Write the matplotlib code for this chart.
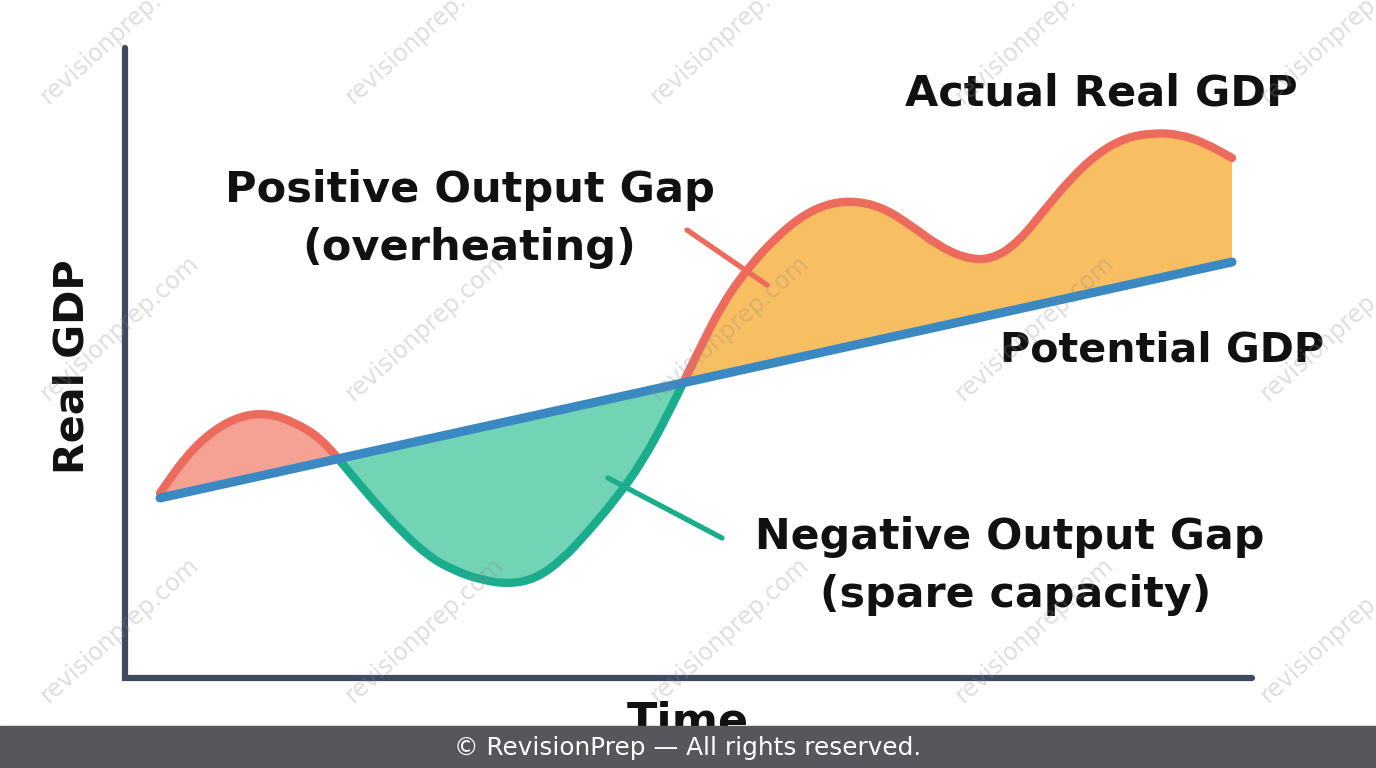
import matplotlib
matplotlib.use("Agg")
import matplotlib.pyplot as plt
from matplotlib.patches import Polygon, Rectangle, PathPatch
from matplotlib.path import Path
import numpy as np

# time steps along the x axis, and the two GDP series
time = np.arange(0, 41)
actual_gdp = [20.7, 24.5, 27.0, 28.4, 28.7, 27.8, 26.2, 23.0, 19.8, 16.9,
              14.4, 12.9, 12.0, 11.6, 12.1, 14.0, 16.9, 20.1, 23.8, 28.8,
              34.4, 39.7, 43.4, 46.3, 48.5, 49.7, 49.9, 49.2, 47.5, 45.5,
              44.2, 44.0, 45.7, 49.0, 52.2, 54.7, 56.2, 56.7, 56.6, 55.7,
              54.2]
potential_t = [0, 40]
potential_gdp = [20.2, 43.8]

labels = {
    "actual": "Actual Real GDP",
    "potential": "Potential GDP",
    "pos": ["Positive Output Gap", "(overheating)"],
    "neg": ["Negative Output Gap", "(spare capacity)"],
}
footer = "\u00a9 RevisionPrep \u2014 All rights reserved."

RED = "#ec6b5c"
TEAL = "#19ad8e"
BLUE = "#3a89c3"
AXIS = "#3e4a5f"

W, H = 1376, 768
fig = plt.figure(figsize=(W / 100, H / 100), dpi=100)
ax = fig.add_axes([0, 0, 1, 1])
ax.set_axis_off()

# pixel -> data mapping (t = (x-160)/26.8, gdp = (700-y)/10)
def px(x, y):
    return (x - 160) / 26.8, (700 - y) / 10

ax.set_xlim(px(0, 0)[0], px(W, 0)[0])
ax.set_ylim(px(0, H)[1], px(0, 0)[1])

pts = np.column_stack([np.asarray(time, float), np.asarray(actual_gdp)])

# smooth quadratic curve through the midpoints, points as control points
verts = [pts[0], (pts[0] + pts[1]) / 2]
codes = [Path.MOVETO, Path.LINETO]
for i in range(1, len(pts) - 1):
    verts += [pts[i], (pts[i] + pts[i + 1]) / 2]
    codes += [Path.CURVE3, Path.CURVE3]
verts.append(pts[-1])
codes.append(Path.LINETO)
curve = Path(verts, codes)

# area between the curve and the trend line
area = Path(verts + [(potential_t[1], potential_gdp[1]),
                     (potential_t[0], potential_gdp[0]),
                     (potential_t[0], potential_gdp[0])],
            codes + [Path.LINETO, Path.LINETO, Path.CLOSEPOLY])

slope = (potential_gdp[1] - potential_gdp[0]) / (potential_t[1] - potential_t[0])
def trend(x):
    return potential_gdp[0] + slope * (x - potential_t[0])

def region(xa, xb, up):
    far = 200 if up else -200
    return Polygon([(xa, trend(xa)), (xb, trend(xb)), (xb, far), (xa, far)],
                   transform=ax.transData)

for color, clip in [("#f5a295", region(-10, 12, True)),
                    ("#f8bf62", region(12, 50, True)),
                    ("#72d3b5", region(-10, 50, False))]:
    p = ax.add_patch(PathPatch(area, facecolor=color, lw=0, zorder=2))
    p.set_clip_path(clip)

# actual GDP line: red above potential, teal below
for color, up in [(RED, True), (TEAL, False)]:
    p = ax.add_patch(PathPatch(curve, facecolor="none", edgecolor=color, lw=6,
                               capstyle="round", joinstyle="round", zorder=3))
    p.set_clip_path(region(-10, 50, up))

ax.plot(potential_t, potential_gdp, color=BLUE, lw=6.5,
        solid_capstyle="round", zorder=4)

# axes drawn as plain lines
ax_x, ax_top = px(125, 48)
ax_right, ax_bot = px(1252, 678)
ax.plot([ax_x, ax_x, ax_right], [ax_top, ax_bot, ax_bot], color=AXIS, lw=4.5,
        solid_capstyle="round", solid_joinstyle="miter", zorder=4)

# pointer lines
for (xa, ya, xb, yb), c in [((687, 230, 767, 285), RED), ((608, 478, 722, 538), TEAL)]:
    p, q = px(xa, ya), px(xb, yb)
    ax.plot([p[0], q[0]], [p[1], q[1]], color=c, lw=3.8,
            solid_capstyle="round", zorder=5)

# footer bar
fig.patches.append(Rectangle((0, 0), 1, 42 / H, transform=fig.transFigure,
                             color="#55575c", zorder=6))
fig.text(0.5, (H - 748) / H, footer, color="white", fontsize=17.8,
         ha="center", va="center", zorder=7)

FONT = "DejaVu Sans"
renderer = fig.canvas.get_renderer()

def fit_text(s, cx, cy, width, rot=0, size=26):
    x, y = px(cx, cy)
    txt = ax.text(x, y, s, fontsize=size, fontweight="bold", family=FONT,
                  ha="center", va="center", rotation=rot, color="#111111",
                  zorder=8)
    bb = txt.get_window_extent(renderer)
    cur = bb.height if rot else bb.width
    txt.set_fontsize(size * width / cur)
    return txt

fit_text(labels["actual"], 1101, 93, 393)
fit_text(labels["potential"], 1162, 350, 325)
pt = fit_text(labels["pos"][0], 470, 190, 491)
ax.text(*px(469, 248), labels["pos"][1], fontsize=pt.get_fontsize(),
        fontweight="bold", family=FONT, ha="center", va="center",
        color="#111111", zorder=8)
nt = fit_text(labels["neg"][0], 1010, 537, 510)
ax.text(*px(1016, 595), labels["neg"][1], fontsize=nt.get_fontsize(),
        fontweight="bold", family=FONT, ha="center", va="center",
        color="#111111", zorder=8)
fit_text("Real GDP", 72, 367, 215, rot=90)
fit_text("Time", 688, 722, 122)

# watermark tiles
for cy in [31, 328, 630]:
    for cx in [120, 425, 730, 1035, 1340]:
        fig.text(cx / W, 1 - cy / H, "revisionprep.com", fontsize=17,
                 color="#8a8a8a", alpha=0.28, rotation=42, ha="center",
                 va="center", zorder=9)

fig.savefig("out.png", dpi=100)
